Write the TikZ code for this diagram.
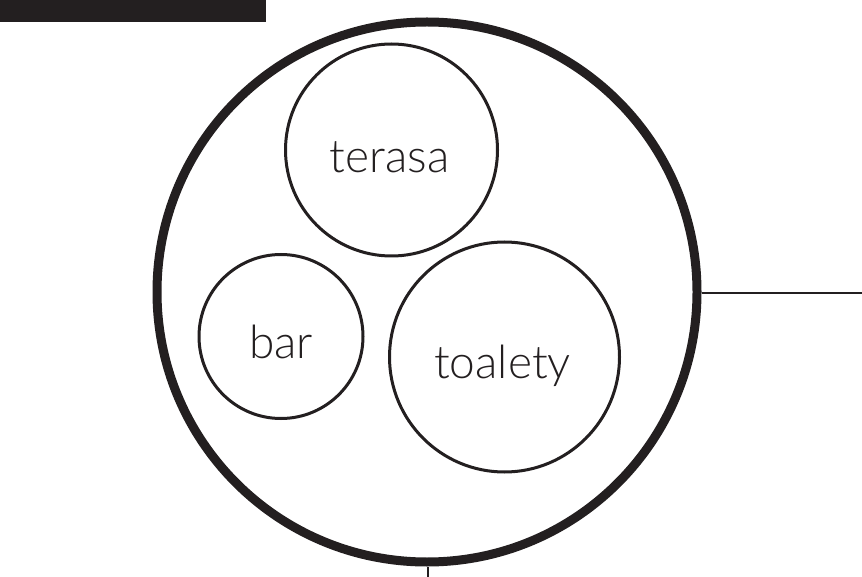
\documentclass[tikz,border=0pt]{standalone}
\usepackage{fontspec}
\setmainfont{Lato Light}
\definecolor{ink}{HTML}{231F20}
\begin{document}
\begin{tikzpicture}[x=1pt,y=-1pt,
  room/.style={circle,draw=ink,line width=3pt,inner sep=0pt},
  lbl/.style={anchor=base,text=ink,font=\fontsize{46}{54}\selectfont},
  link/.style={draw=ink,line width=2pt}]
\useasboundingbox (0,0) rectangle (862,577);
\fill[ink] (0,0) rectangle (266,22);
\node[circle,draw=ink,line width=9pt,inner sep=0pt,minimum size=540pt] (site) at (427,292) {};
\node[room,minimum size=212pt] (terasa) at (391.5,150) {};
\node[room,minimum size=164pt] (bar) at (281,336.5) {};
\node[room,minimum size=230pt] (toalety) at (504.5,357) {};
\node[lbl] (tT) at (389.5,173) {terasa};
\node[lbl] (tB) at (281,358) {bar};
\node[lbl] (tL) at (502.5,378) {toalety};
\coordinate (e) at (862,293);
\coordinate (s) at (428,577);
\draw[link] (site.east |- e) -- (e);
\draw[link] (site.south -| s) -- (s);
\end{tikzpicture}
\end{document}
